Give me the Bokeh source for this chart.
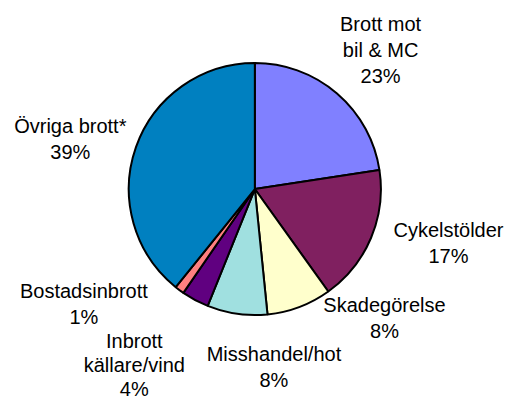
import numpy as np
from bokeh.plotting import figure
from bokeh.models import Range1d, ColumnDataSource
from bokeh.core.properties import value
from bokeh.embed import file_html
from bokeh.resources import INLINE

categories = ["Brott mot\nbil & MC", "Cykelstölder", "Skadegörelse", "Misshandel/hot",
              "Inbrott\nkällare/vind", "Bostadsinbrott", "Övriga brott*"]
shares = [22.6, 17.5, 8.3, 7.7, 3.5, 1.2, 39.2]
pct_labels = ["23%", "17%", "8%", "8%", "4%", "1%", "39%"]
colors = ["#8080FF", "#802060", "#FFFFCC", "#A0E0E0", "#600080", "#FF8080", "#0080C0"]

# layout in reference-pixel units (y flipped for data space)
W, H = 527, 420
cx, cy, r = 262.3, H - 196, 130
label_pos = [(392, 24), (462, 239), (396, 317), (282, 368), (138, 354), (86, 302), (72, 130)]
line_hs = [27, 27, 27, 27, 25, 27, 27]

vals = np.array(shares, dtype=float)
frac = vals / vals.sum()
ends = np.cumsum(frac)
starts = ends - frac
src = ColumnDataSource(dict(
    start=np.pi / 2 - starts * 2 * np.pi,
    end=np.pi / 2 - ends * 2 * np.pi,
    color=colors,
))

p = figure(width=511, height=404, output_backend="svg", toolbar_location=None,
           x_range=Range1d(0, W), y_range=Range1d(0, H),
           min_border=0, outline_line_color=None)
p.axis.visible = False
p.grid.visible = False

p.wedge(x=cx, y=cy, radius=r, start_angle="start", end_angle="end", direction="clock",
        fill_color="color", line_color="black", line_width=2, source=src)

xs, ys, txt = [], [], []
for name, pct, (lx, ly), lh in zip(categories, pct_labels, label_pos, line_hs):
    lines = name.split("\n") + [pct]
    for i, t in enumerate(lines):
        xs.append(lx)
        ys.append(H - (ly + i * lh))
        txt.append(t)

p.text(x=xs, y=ys, text=txt, text_align="center", text_baseline="middle",
       text_font=value("Liberation Sans"), text_font_size="20px", text_color="black")

open("out.html", "w").write(file_html(p, INLINE))
